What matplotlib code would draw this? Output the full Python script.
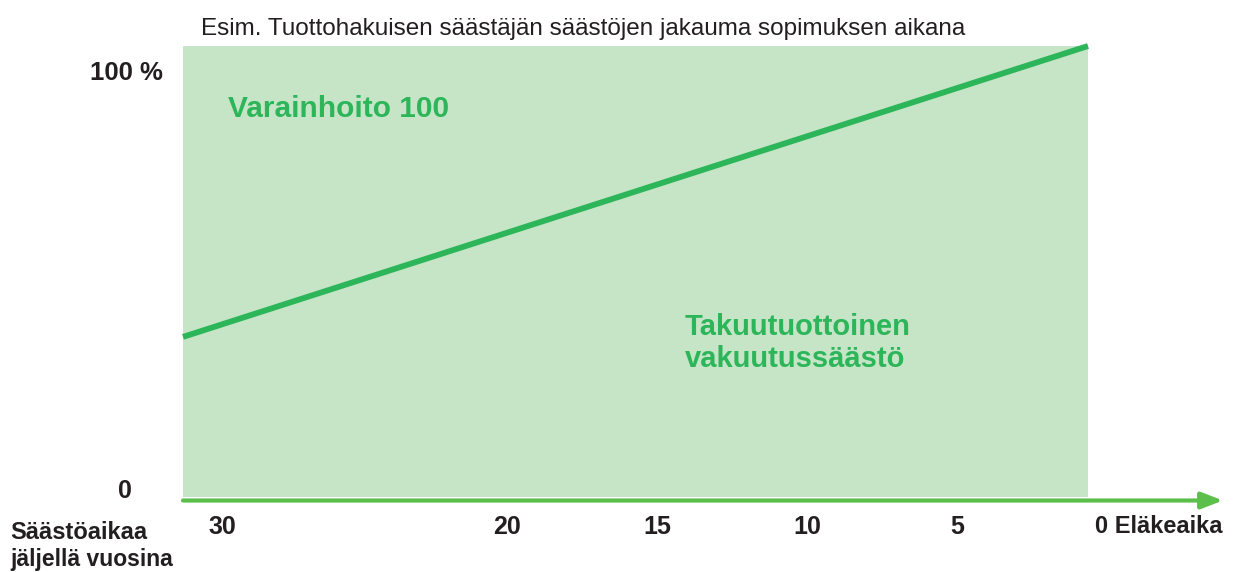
import matplotlib
matplotlib.use("Agg")
import matplotlib.pyplot as plt
import matplotlib.transforms as mtransforms

# ---- data ----
years_span = [30.8, 0.63]          # years remaining at left/right edge of the shaded region
line_share = [35.5, 100.0]         # % of savings in guaranteed-return insurance at the edges
tick_years = [29.5, 20, 15, 10, 5]
tick_labels = ["30", "20", "15", "10", "5"]
end_label = "0 Eläkeaika"
title = "Esim. Tuottohakuisen säästäjän säästöjen jakauma sopimuksen aikana"
area_top = "Varainhoito 100"
area_bottom = ["Takuutuottoinen", "vakuutussäästö"]
xaxis_label = ["Säästöaikaa", "jäljellä vuosina"]

FILL = "#c6e5c7"
LINE = "#2db55a"
AXIS = "#5cbf4c"
TXT = "#231f20"

plt.rcParams['font.family'] = ['Liberation Sans', 'DejaVu Sans']

W, H = 1233, 572
fig = plt.figure(figsize=(W / 100, H / 100), dpi=100)
x0, x1 = 183, 1088
ytop, ybot = 46, 497
ax = fig.add_axes([x0 / W, (H - ybot) / H, (x1 - x0) / W, (ybot - ytop) / H])
ax.set_xlim(years_span[0], years_span[1])
ax.set_ylim(0, 100)
ax.axis("off")

ax.fill_between(years_span, [0, 0], [100, 100], color=FILL, lw=0)
ax.plot(years_span, line_share, color=LINE, lw=4.2, solid_capstyle="butt", clip_on=False)

# x axis arrow
px_per_year = (x1 - x0) / (years_span[0] - years_span[1])
axis_y = -3.5 / (ybot - ytop) * 100
arrow_end = years_span[1] - (1223 - x1) / px_per_year
ax.annotate("", xy=(arrow_end, axis_y), xytext=(years_span[0], axis_y),
            arrowprops=dict(arrowstyle="-|>,head_length=1.3,head_width=0.5",
                            color=AXIS, lw=3, shrinkA=0, shrinkB=0),
            annotation_clip=False)

def fy(py):
    return (H - py) / H

# tick labels
tb = mtransforms.blended_transform_factory(ax.transData, fig.transFigure)
for yv, lab in zip(tick_years, tick_labels):
    ax.text(yv, fy(524), lab, transform=tb, ha="center", va="center_baseline",
            fontsize=18, fontweight="bold", color=TXT)
ax.text(0.4, fy(524), end_label, transform=tb, ha="left", va="center_baseline",
        fontsize=17, fontweight="bold", color=TXT)

# y labels
fig.text(163 / W, fy(70), "100 %", ha="right", va="center_baseline",
         fontsize=18.5, fontweight="bold", color=TXT)
fig.text(125 / W, fy(489), "0", ha="center", va="center_baseline",
         fontsize=18, fontweight="bold", color=TXT)
fig.text(10 / W, fy(539), xaxis_label[0], ha="left", va="baseline",
         fontsize=17, fontweight="bold", color=TXT)
fig.text(10 / W, fy(566), xaxis_label[1], ha="left", va="baseline",
         fontsize=16.5, fontweight="bold", color=TXT)

fig.text(201 / W, fy(35), title, ha="left", va="baseline",
         fontsize=17.5, color=TXT)

fig.text(228 / W, fy(117), area_top, ha="left", va="baseline",
         fontsize=21.5, fontweight="bold", color=LINE)
fig.text(685 / W, fy(335), area_bottom[0], ha="left", va="baseline",
         fontsize=21, fontweight="bold", color=LINE)
fig.text(685 / W, fy(367), area_bottom[1], ha="left", va="baseline",
         fontsize=21, fontweight="bold", color=LINE)

fig.savefig("out.png", dpi=100)
